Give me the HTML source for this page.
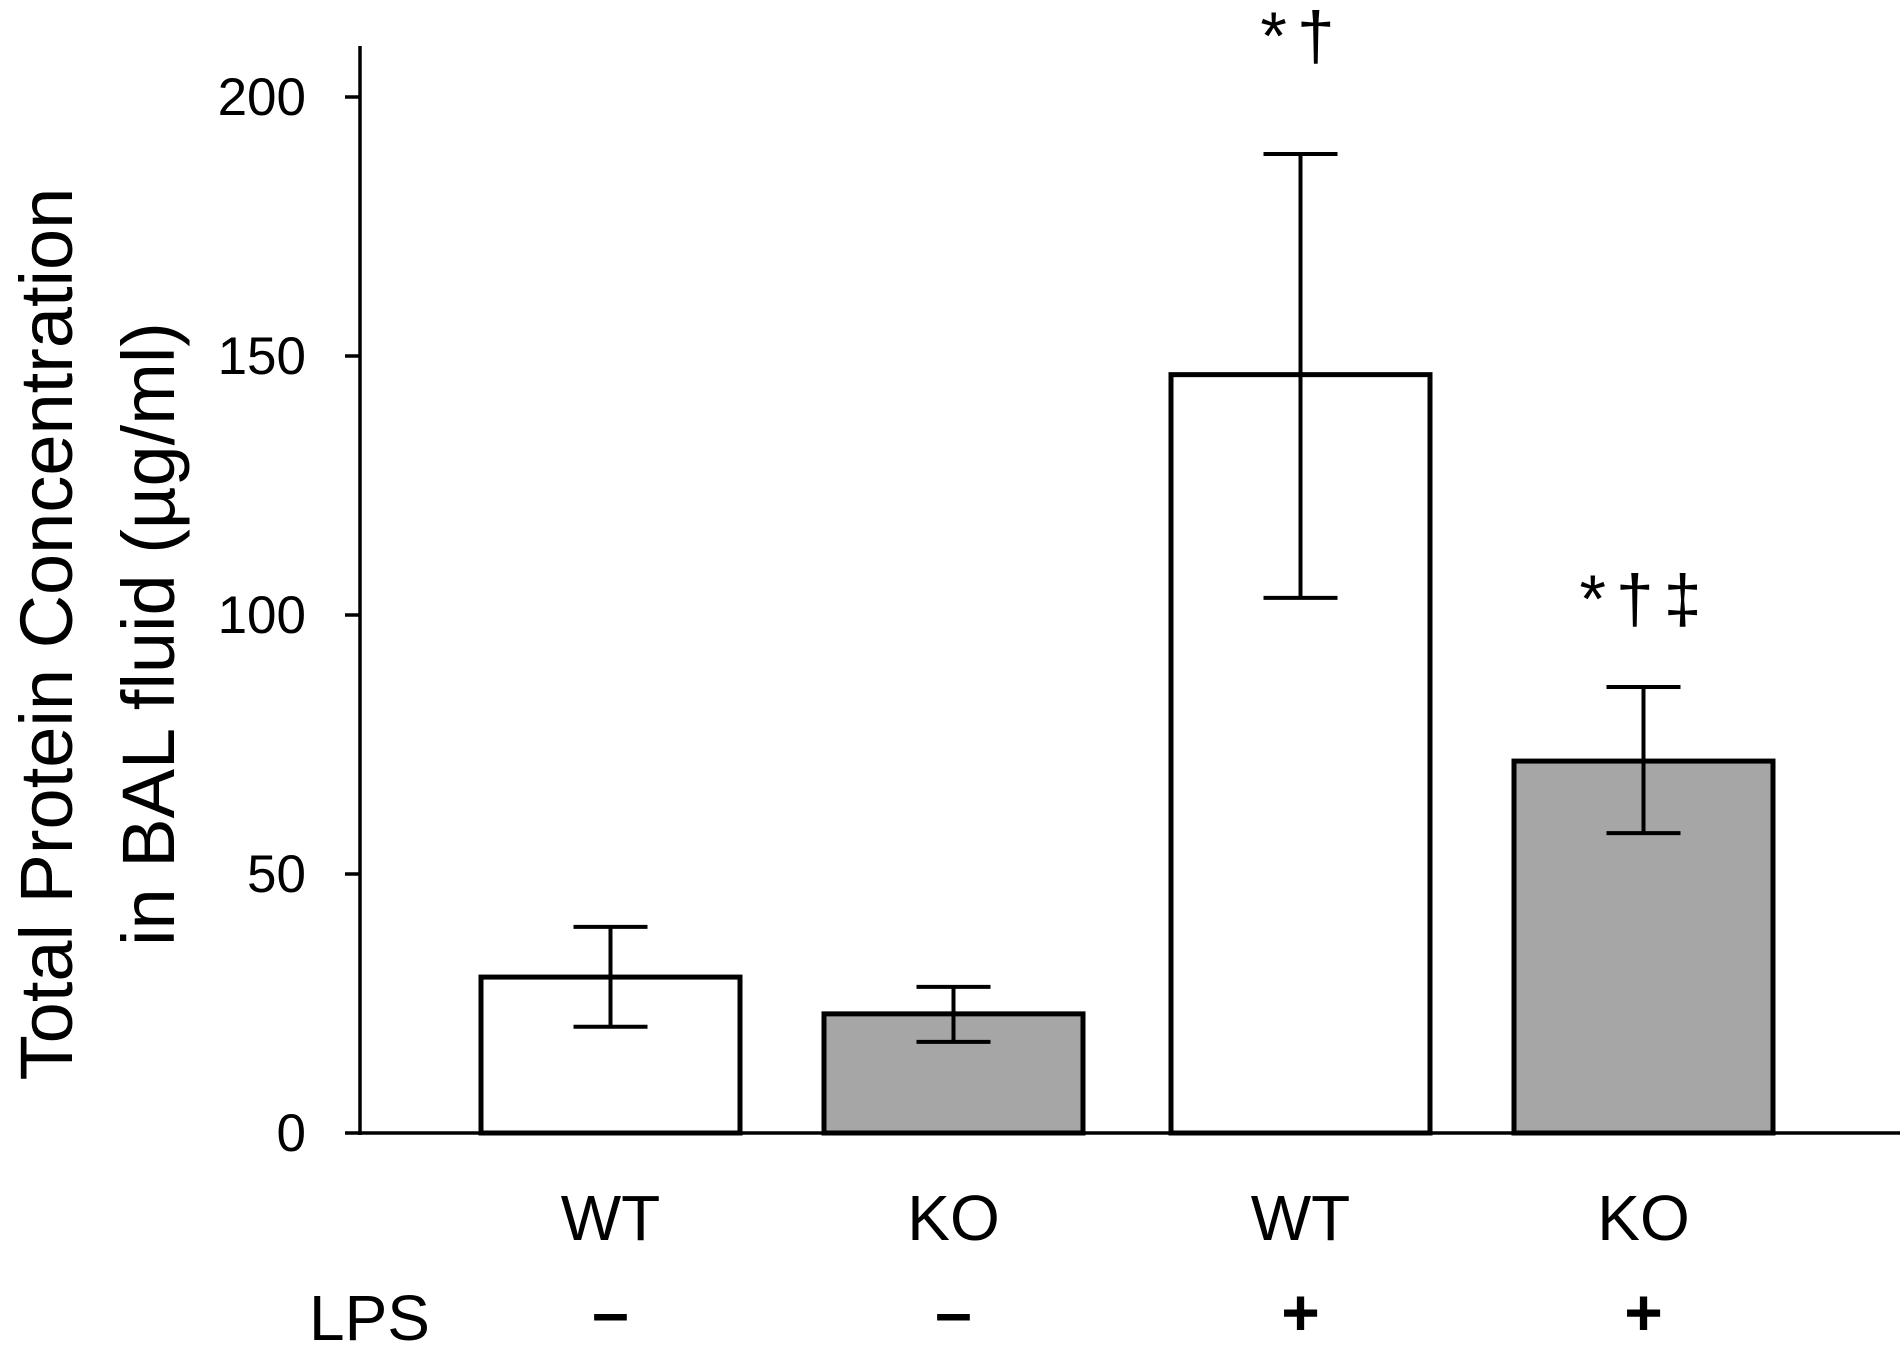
<!DOCTYPE html>
<html><head><meta charset="utf-8"><style>
html,body{margin:0;padding:0;background:#fff;}
svg{display:block;font-family:"Liberation Sans",Arial,sans-serif;}
</style></head><body>
<svg id="chart" width="1903" height="1349" viewBox="0 0 1903 1349">
<g id="g"></g>
</svg>
<script>
const categories = ["WT","KO","WT","KO"];
const lps = ["–","–","+","+"];
const means = [30.1, 23, 146.4, 71.8];
const errHigh = [39.8, 28.2, 189, 86.1];
const errLow = [20.5, 17.6, 103.3, 57.9];
const fills = ["#ffffff","#a6a6a6","#ffffff","#a6a6a6"];
const annotations = ["","","*†","*†‡"];
const ticks = [0,50,100,150,200];

const NS="http://www.w3.org/2000/svg";
const g=document.getElementById('g');
const x0=360, y0=1133, pxPerUnit=5.18;
const y=v=>y0-v*pxPerUnit;
const barLeft=[481,824,1171,1514], barW=259;
function mk(t,a,txt){const e=document.createElementNS(NS,t);for(const k in a)e.setAttribute(k,a[k]);if(txt!==undefined)e.textContent=txt;g.appendChild(e);return e;}

let e=mk('line',{x1:x0,y1:46,x2:x0,y2:y0+2,stroke:'#000','stroke-width':3.5});


e=mk('line',{x1:x0-2,y1:y0,x2:1900,y2:y0,stroke:'#000','stroke-width':3.5});


ticks.forEach(t=>{
  e=mk('line',{x1:345,y1:y(t),x2:x0,y2:y(t),stroke:'#000','stroke-width':3.5});
  
  
  e=mk('text',{x:306,y:y(t)+18,'text-anchor':'end','font-size':53,fill:'#000'},String(t));
  
  
});
e=mk('text',{transform:'translate(72,634) rotate(-90)','text-anchor':'middle','font-size':74,fill:'#000'},'Total Protein Concentration');


e=mk('text',{transform:'translate(174,634) rotate(-90)','text-anchor':'middle','font-size':74,fill:'#000'},'in BAL fluid (µg/ml)');



means.forEach((m,i)=>{
  const cx=barLeft[i]+barW/2;
  e=mk('rect',{x:barLeft[i],y:y(m),width:barW,height:y0-y(m),fill:fills[i],stroke:'#000','stroke-width':5});
  
  
  e=mk('path',{d:`M${cx},${y(errHigh[i])}V${y(errLow[i])}M${cx-37},${y(errHigh[i])}H${cx+37}M${cx-37},${y(errLow[i])}H${cx+37}`,stroke:'#000','stroke-width':4,fill:'none'});
  
  
  e=mk('text',{x:cx,y:1240,'text-anchor':'middle','font-size':64,fill:'#000'},categories[i]);
  
  
  e=mk('text',{x:cx,y:1335,'text-anchor':'middle','font-size':66,'font-weight':'bold',fill:'#000'},lps[i]);
  
  
  if(annotations[i]){
    e=mk('text',{x:cx+2,y:y(errHigh[i])-(i===2?95:65),'text-anchor':'middle','font-size':68,'letter-spacing':10,fill:'#000'},annotations[i]);
    
    
  }
});
e=mk('text',{x:309,y:1340,'font-size':64,fill:'#000'},'LPS');


</script>
</body></html>
